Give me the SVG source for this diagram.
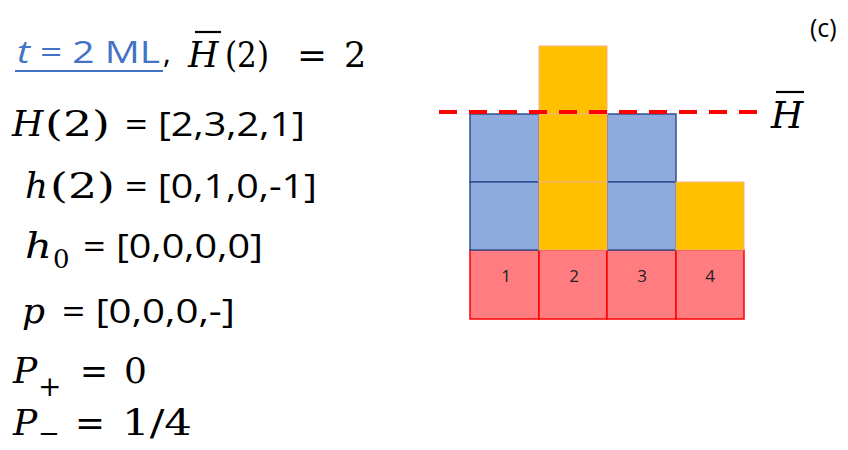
<svg xmlns="http://www.w3.org/2000/svg" width="848" height="450" viewBox="0 0 848 450">
<style>
.bg{fill:#ffffff}
.sans{font-family:"Open Sans","Liberation Sans",Arial,sans-serif;fill:#000}
.mi{font-family:"DejaVu Serif","Liberation Serif",serif;font-style:italic;fill:#000}
.mr{font-family:"DejaVu Serif","Liberation Serif",serif;fill:#000}
.red{fill:#FF7C80;stroke:#FF0000;stroke-width:1.5}
.blue{fill:#8FAADC;stroke:#2F528F;stroke-width:1.5}
.yel{fill:#FFC000;stroke:#F4B183;stroke-width:1}
.num{font-family:"Open Sans","Liberation Sans",Arial,sans-serif;font-size:17px;fill:#222;text-anchor:middle}
.bar{stroke:#000;stroke-width:2.2}
</style>
<rect class="bg" x="0" y="0" width="848" height="450"/>

<g id="equations">
  <g id="line1">
    <text class="sans" x="17" y="63" font-size="31" style="fill:#4472C4" textLength="143" lengthAdjust="spacingAndGlyphs"><tspan font-style="italic">t</tspan> = 2 ML</text>
    <line x1="15" y1="71" x2="163" y2="71" stroke="#4472C4" stroke-width="2"/>
    <text class="sans" x="163" y="63" font-size="30">,</text>
    <text class="mi" x="188" y="67" font-size="35">H</text>
    <line class="bar" x1="195" y1="32" x2="221" y2="32"/>
    <text class="mr" x="225" y="67" font-size="36" textLength="44" lengthAdjust="spacingAndGlyphs">(2)</text>
    <text class="mr" x="297" y="67" font-size="35" textLength="30" lengthAdjust="spacingAndGlyphs">=</text>
    <text class="mr" x="344" y="67" font-size="35">2</text>
  </g>
  <g id="line2">
    <text class="mi" x="12" y="136" font-size="36">H</text>
    <text class="mr" x="45" y="136" font-size="36" textLength="65" lengthAdjust="spacingAndGlyphs">(2)</text>
    <text class="sans" x="125" y="136" font-size="33" textLength="180" lengthAdjust="spacingAndGlyphs">= [2,3,2,1]</text>
  </g>
  <g id="line3">
    <text class="mi" x="25" y="198" font-size="36">h</text>
    <text class="mr" x="50" y="198" font-size="36" textLength="65" lengthAdjust="spacingAndGlyphs">(2)</text>
    <text class="sans" x="125" y="198" font-size="33" textLength="192" lengthAdjust="spacingAndGlyphs">= [0,1,0,-1]</text>
  </g>
  <g id="line4">
    <text class="mi" x="25" y="258" font-size="36" textLength="27" lengthAdjust="spacingAndGlyphs">h</text>
    <text class="mr" x="53" y="268" font-size="26">0</text>
    <text class="sans" x="83" y="258" font-size="33" textLength="180" lengthAdjust="spacingAndGlyphs">= [0,0,0,0]</text>
  </g>
  <g id="line5">
    <text class="mi" x="22" y="323" font-size="36">p</text>
    <text class="sans" x="62" y="323" font-size="33" textLength="173" lengthAdjust="spacingAndGlyphs">= [0,0,0,-]</text>
  </g>
  <g id="line6">
    <text class="mi" x="13" y="383" font-size="36">P</text>
    <text class="mr" x="38" y="396" font-size="28">+</text>
    <text class="mr" x="80" y="383" font-size="36" textLength="28" lengthAdjust="spacingAndGlyphs">=</text>
    <text class="mr" x="124" y="383" font-size="36">0</text>
  </g>
  <g id="line7">
    <text class="mi" x="13" y="435" font-size="36">P</text>
    <text class="mr" x="38" y="442" font-size="26">−</text>
    <text class="mr" x="75" y="435" font-size="36" textLength="30" lengthAdjust="spacingAndGlyphs">=</text>
    <text class="mr" x="122" y="435" font-size="36" textLength="70" lengthAdjust="spacingAndGlyphs">1/4</text>
  </g>
</g>

<text id="label-c" class="sans" x="810" y="37" font-size="25">(c)</text>

<g id="grid">
  <g id="substrate">
    <rect class="red" x="470" y="250" width="69" height="69"/>
    <rect class="red" x="539" y="250" width="68" height="69"/>
    <rect class="red" x="607" y="250" width="69" height="69"/>
    <rect class="red" x="676" y="250" width="68" height="69"/>
    <text class="num" x="506" y="282">1</text>
    <text class="num" x="574" y="282">2</text>
    <text class="num" x="642" y="282">3</text>
    <text class="num" x="710" y="282">4</text>
  </g>
  <g id="blue-blocks">
    <rect class="blue" x="470" y="114" width="69" height="68"/>
    <rect class="blue" x="470" y="182" width="69" height="68"/>
    <rect class="blue" x="607" y="114" width="69" height="68"/>
    <rect class="blue" x="607" y="182" width="69" height="68"/>
  </g>
  <g id="yellow-blocks">
    <rect class="yel" x="539" y="46" width="68" height="68"/>
    <rect class="yel" x="539" y="114" width="68" height="68"/>
    <rect class="yel" x="539" y="182" width="68" height="68"/>
    <rect class="yel" x="676" y="182" width="68" height="68"/>
  </g>
</g>

<g id="connectors">
  <line x1="439" y1="112" x2="757" y2="112" stroke="#FF0000" stroke-width="4" stroke-dasharray="18 12"/>
</g>

<g id="hbar-label">
  <text class="mi" x="771" y="128" font-size="37">H</text>
  <line class="bar" x1="776" y1="92" x2="804" y2="92"/>
</g>
</svg>
